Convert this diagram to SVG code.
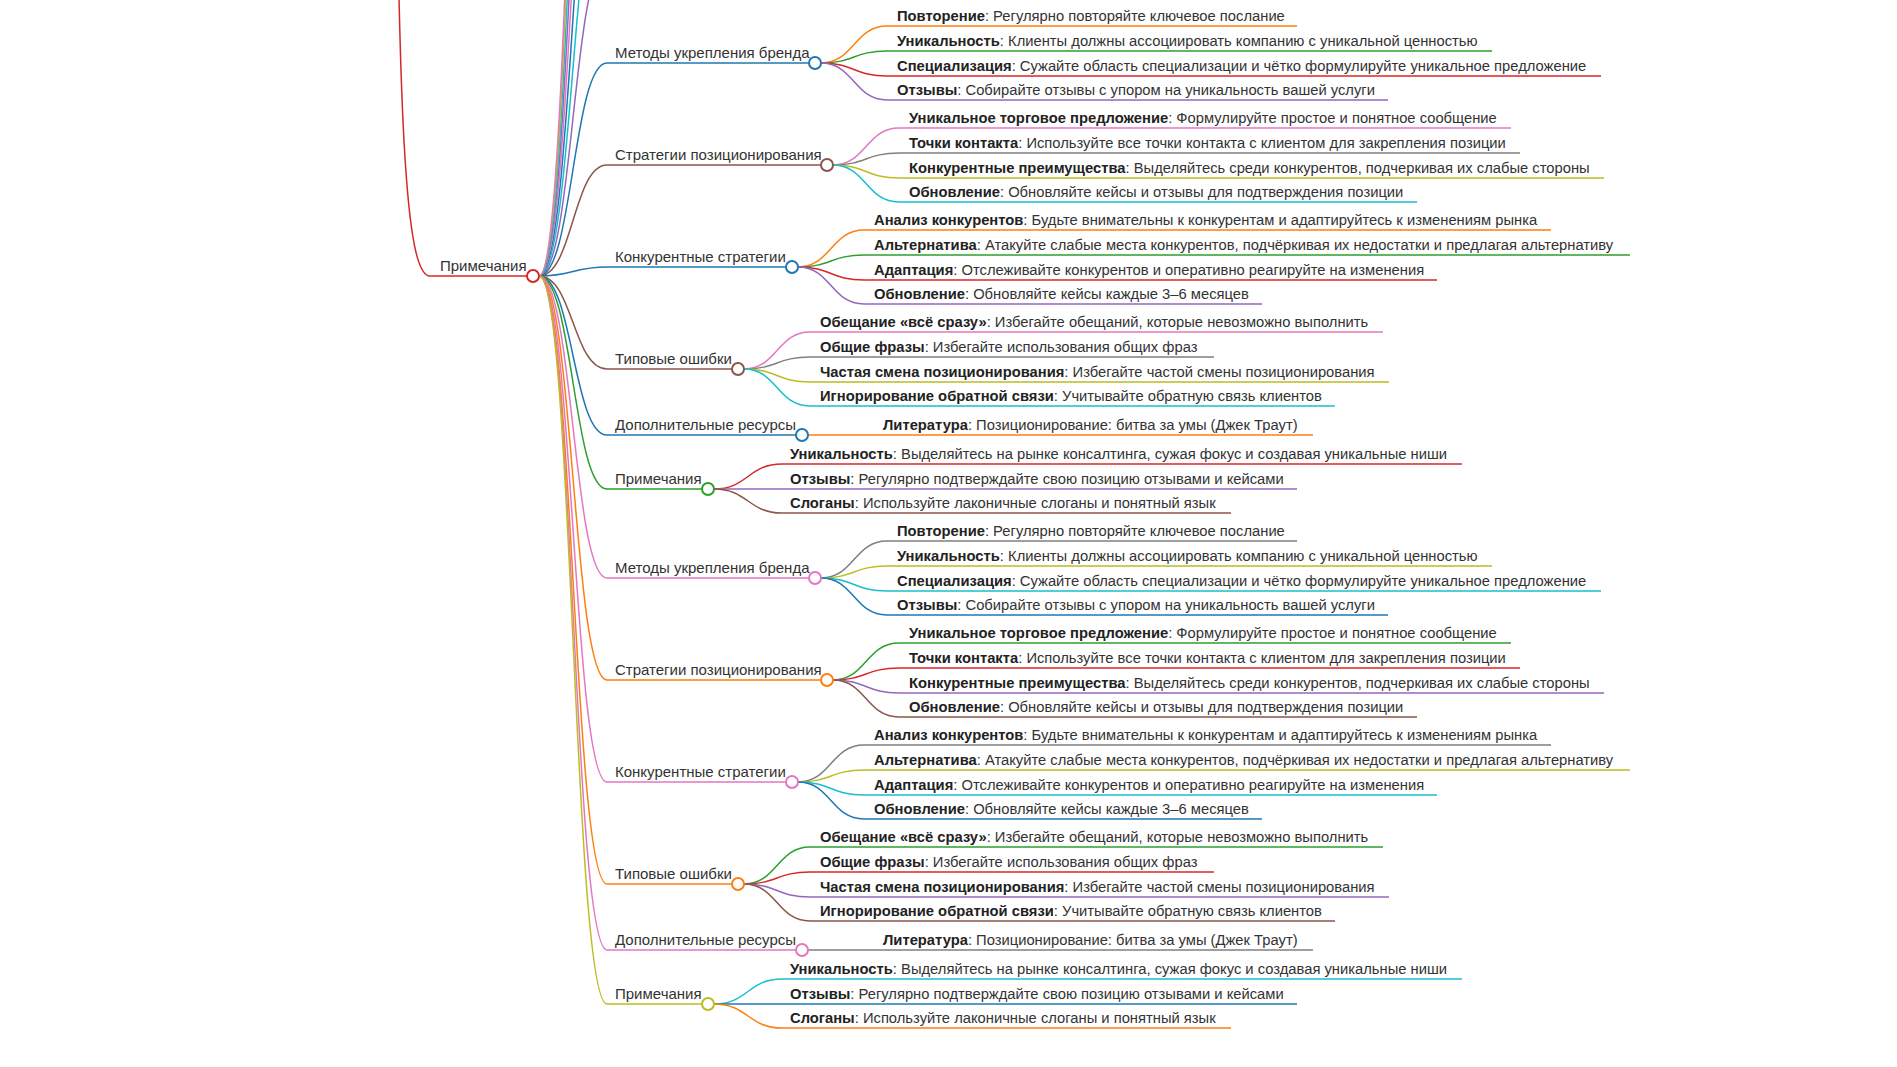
<svg xmlns="http://www.w3.org/2000/svg" width="1897" height="1067" viewBox="0 0 1897 1067">
<style>
text{font-family:"Liberation Sans",Arial,sans-serif;font-size:15px;fill:#333}
.lf text{font-size:14.75px}
.b{font-weight:bold;fill:#222}
path{fill:none;stroke-width:1.5}
circle{fill:#fff;stroke-width:2}
</style>
<rect width="1897" height="1067" fill="#fff"/>
<g id="connectors">
<path d="M527,276 H430 C405,276 398,120 395,-300" stroke="#d62728"/>
<path d="M539,276 C573,276 573,-40 607,-40" stroke="#9467bd"/>
<path d="M539,276 C573,276 573,-140 607,-140" stroke="#17becf"/>
<path d="M539,276 C573,276 573,-240 607,-240" stroke="#1f77b4"/>
<path d="M539,276 C573,276 573,-340 607,-340" stroke="#e377c2"/>
<path d="M539,276 C573,276 573,-440 607,-440" stroke="#9467bd"/>
<path d="M539,276 C573,276 573,-540 607,-540" stroke="#17becf"/>
<path d="M539,276 C573,276 573,-640 607,-640" stroke="#bcbd22"/>
<path d="M539,276 C573,276 573,-740 607,-740" stroke="#e377c2"/>
<path d="M539,276 C573,276 573,63 607,63 H809" stroke="#1f77b4"/>
<path d="M539,276 C573,276 573,165 607,165 H821" stroke="#8c564b"/>
<path d="M539,276 C573,276 573,267 607,267 H786" stroke="#1f77b4"/>
<path d="M539,276 C573,276 573,369 607,369 H732" stroke="#8c564b"/>
<path d="M539,276 C573,276 573,435 607,435 H796" stroke="#1f77b4"/>
<path d="M539,276 C573,276 573,489 607,489 H702" stroke="#2ca02c"/>
<path d="M539,276 C573,276 573,578 607,578 H809" stroke="#e377c2"/>
<path d="M539,276 C573,276 573,680 607,680 H821" stroke="#ff7f0e"/>
<path d="M539,276 C573,276 573,782 607,782 H786" stroke="#e377c2"/>
<path d="M539,276 C573,276 573,884 607,884 H732" stroke="#ff7f0e"/>
<path d="M539,276 C573,276 573,950 607,950 H796" stroke="#e377c2"/>
<path d="M539,276 C573,276 573,1004 607,1004 H702" stroke="#bcbd22"/>
<path d="M821,63 C854,63 854,26 887,26 H1297" stroke="#ff7f0e"/>
<path d="M821,63 C854,63 854,51 887,51 H1492" stroke="#2ca02c"/>
<path d="M821,63 C854,63 854,76 887,76 H1601" stroke="#d62728"/>
<path d="M821,63 C854,63 854,100 887,100 H1388" stroke="#9467bd"/>
<path d="M833,165 C866,165 866,128 899,128 H1511" stroke="#e377c2"/>
<path d="M833,165 C866,165 866,153 899,153 H1520" stroke="#7f7f7f"/>
<path d="M833,165 C866,165 866,178 899,178 H1604" stroke="#bcbd22"/>
<path d="M833,165 C866,165 866,202 899,202 H1417" stroke="#17becf"/>
<path d="M798,267 C831,267 831,230 864,230 H1551" stroke="#ff7f0e"/>
<path d="M798,267 C831,267 831,255 864,255 H1630" stroke="#2ca02c"/>
<path d="M798,267 C831,267 831,280 864,280 H1437" stroke="#d62728"/>
<path d="M798,267 C831,267 831,304 864,304 H1262" stroke="#9467bd"/>
<path d="M744,369 C777,369 777,332 810,332 H1383" stroke="#e377c2"/>
<path d="M744,369 C777,369 777,357 810,357 H1214" stroke="#7f7f7f"/>
<path d="M744,369 C777,369 777,382 810,382 H1389" stroke="#bcbd22"/>
<path d="M744,369 C777,369 777,406 810,406 H1335" stroke="#17becf"/>
<path d="M808,435 H1313" stroke="#ff7f0e"/>
<path d="M714,489 C748,489 748,464 782,464 H1462" stroke="#d62728"/>
<path d="M714,489 H1297" stroke="#9467bd"/>
<path d="M714,489 C748,489 748,513 782,513 H1231" stroke="#8c564b"/>
<path d="M821,578 C854,578 854,541 887,541 H1297" stroke="#7f7f7f"/>
<path d="M821,578 C854,578 854,566 887,566 H1492" stroke="#bcbd22"/>
<path d="M821,578 C854,578 854,591 887,591 H1601" stroke="#17becf"/>
<path d="M821,578 C854,578 854,615 887,615 H1388" stroke="#1f77b4"/>
<path d="M833,680 C866,680 866,643 899,643 H1511" stroke="#2ca02c"/>
<path d="M833,680 C866,680 866,668 899,668 H1520" stroke="#d62728"/>
<path d="M833,680 C866,680 866,693 899,693 H1604" stroke="#9467bd"/>
<path d="M833,680 C866,680 866,717 899,717 H1417" stroke="#8c564b"/>
<path d="M798,782 C831,782 831,745 864,745 H1551" stroke="#7f7f7f"/>
<path d="M798,782 C831,782 831,770 864,770 H1630" stroke="#bcbd22"/>
<path d="M798,782 C831,782 831,795 864,795 H1437" stroke="#17becf"/>
<path d="M798,782 C831,782 831,819 864,819 H1262" stroke="#1f77b4"/>
<path d="M744,884 C777,884 777,847 810,847 H1383" stroke="#2ca02c"/>
<path d="M744,884 C777,884 777,872 810,872 H1214" stroke="#d62728"/>
<path d="M744,884 C777,884 777,897 810,897 H1389" stroke="#9467bd"/>
<path d="M744,884 C777,884 777,921 810,921 H1335" stroke="#8c564b"/>
<path d="M808,950 H1313" stroke="#7f7f7f"/>
<path d="M714,1004 C748,1004 748,979 782,979 H1462" stroke="#17becf"/>
<path d="M714,1004 H1297" stroke="#1f77b4"/>
<path d="M714,1004 C748,1004 748,1028 782,1028 H1231" stroke="#ff7f0e"/>
</g>
<g id="root"><text x="440" y="271">Примечания</text><circle cx="533" cy="276" r="6" stroke="#d62728"/></g>
<g id="n1"><text x="615" y="58">Методы укрепления бренда</text><circle cx="815" cy="63" r="6" stroke="#1f77b4"/></g>
<g id="n2"><text x="615" y="160">Стратегии позиционирования</text><circle cx="827" cy="165" r="6" stroke="#8c564b"/></g>
<g id="n3"><text x="615" y="262">Конкурентные стратегии</text><circle cx="792" cy="267" r="6" stroke="#1f77b4"/></g>
<g id="n4"><text x="615" y="364">Типовые ошибки</text><circle cx="738" cy="369" r="6" stroke="#8c564b"/></g>
<g id="n5"><text x="615" y="430">Дополнительные ресурсы</text><circle cx="802" cy="435" r="6" stroke="#1f77b4"/></g>
<g id="n6"><text x="615" y="484">Примечания</text><circle cx="708" cy="489" r="6" stroke="#2ca02c"/></g>
<g id="n7"><text x="615" y="573">Методы укрепления бренда</text><circle cx="815" cy="578" r="6" stroke="#e377c2"/></g>
<g id="n8"><text x="615" y="675">Стратегии позиционирования</text><circle cx="827" cy="680" r="6" stroke="#ff7f0e"/></g>
<g id="n9"><text x="615" y="777">Конкурентные стратегии</text><circle cx="792" cy="782" r="6" stroke="#e377c2"/></g>
<g id="n10"><text x="615" y="879">Типовые ошибки</text><circle cx="738" cy="884" r="6" stroke="#ff7f0e"/></g>
<g id="n11"><text x="615" y="945">Дополнительные ресурсы</text><circle cx="802" cy="950" r="6" stroke="#e377c2"/></g>
<g id="n12"><text x="615" y="999">Примечания</text><circle cx="708" cy="1004" r="6" stroke="#bcbd22"/></g>
<g id="leaves1" class="lf">
<text x="897" y="21"><tspan class="b">Повторение</tspan>: Регулярно повторяйте ключевое послание</text>
<text x="897" y="46"><tspan class="b">Уникальность</tspan>: Клиенты должны ассоциировать компанию с уникальной ценностью</text>
<text x="897" y="71"><tspan class="b">Специализация</tspan>: Сужайте область специализации и чётко формулируйте уникальное предложение</text>
<text x="897" y="95"><tspan class="b">Отзывы</tspan>: Собирайте отзывы с упором на уникальность вашей услуги</text>
<text x="909" y="123"><tspan class="b">Уникальное торговое предложение</tspan>: Формулируйте простое и понятное сообщение</text>
<text x="909" y="148"><tspan class="b">Точки контакта</tspan>: Используйте все точки контакта с клиентом для закрепления позиции</text>
<text x="909" y="173"><tspan class="b">Конкурентные преимущества</tspan>: Выделяйтесь среди конкурентов, подчеркивая их слабые стороны</text>
<text x="909" y="197"><tspan class="b">Обновление</tspan>: Обновляйте кейсы и отзывы для подтверждения позиции</text>
<text x="874" y="225"><tspan class="b">Анализ конкурентов</tspan>: Будьте внимательны к конкурентам и адаптируйтесь к изменениям рынка</text>
<text x="874" y="250"><tspan class="b">Альтернатива</tspan>: Атакуйте слабые места конкурентов, подчёркивая их недостатки и предлагая альтернативу</text>
<text x="874" y="275"><tspan class="b">Адаптация</tspan>: Отслеживайте конкурентов и оперативно реагируйте на изменения</text>
<text x="874" y="299"><tspan class="b">Обновление</tspan>: Обновляйте кейсы каждые 3–6 месяцев</text>
<text x="820" y="327"><tspan class="b">Обещание «всё сразу»</tspan>: Избегайте обещаний, которые невозможно выполнить</text>
<text x="820" y="352"><tspan class="b">Общие фразы</tspan>: Избегайте использования общих фраз</text>
<text x="820" y="377"><tspan class="b">Частая смена позиционирования</tspan>: Избегайте частой смены позиционирования</text>
<text x="820" y="401"><tspan class="b">Игнорирование обратной связи</tspan>: Учитывайте обратную связь клиентов</text>
<text x="883" y="430"><tspan class="b">Литература</tspan>: Позиционирование: битва за умы (Джек Траут)</text>
<text x="790" y="459"><tspan class="b">Уникальность</tspan>: Выделяйтесь на рынке консалтинга, сужая фокус и создавая уникальные ниши</text>
<text x="790" y="484"><tspan class="b">Отзывы</tspan>: Регулярно подтверждайте свою позицию отзывами и кейсами</text>
<text x="790" y="508"><tspan class="b">Слоганы</tspan>: Используйте лаконичные слоганы и понятный язык</text>
</g>
<g id="leaves2" class="lf">
<text x="897" y="536"><tspan class="b">Повторение</tspan>: Регулярно повторяйте ключевое послание</text>
<text x="897" y="561"><tspan class="b">Уникальность</tspan>: Клиенты должны ассоциировать компанию с уникальной ценностью</text>
<text x="897" y="586"><tspan class="b">Специализация</tspan>: Сужайте область специализации и чётко формулируйте уникальное предложение</text>
<text x="897" y="610"><tspan class="b">Отзывы</tspan>: Собирайте отзывы с упором на уникальность вашей услуги</text>
<text x="909" y="638"><tspan class="b">Уникальное торговое предложение</tspan>: Формулируйте простое и понятное сообщение</text>
<text x="909" y="663"><tspan class="b">Точки контакта</tspan>: Используйте все точки контакта с клиентом для закрепления позиции</text>
<text x="909" y="688"><tspan class="b">Конкурентные преимущества</tspan>: Выделяйтесь среди конкурентов, подчеркивая их слабые стороны</text>
<text x="909" y="712"><tspan class="b">Обновление</tspan>: Обновляйте кейсы и отзывы для подтверждения позиции</text>
<text x="874" y="740"><tspan class="b">Анализ конкурентов</tspan>: Будьте внимательны к конкурентам и адаптируйтесь к изменениям рынка</text>
<text x="874" y="765"><tspan class="b">Альтернатива</tspan>: Атакуйте слабые места конкурентов, подчёркивая их недостатки и предлагая альтернативу</text>
<text x="874" y="790"><tspan class="b">Адаптация</tspan>: Отслеживайте конкурентов и оперативно реагируйте на изменения</text>
<text x="874" y="814"><tspan class="b">Обновление</tspan>: Обновляйте кейсы каждые 3–6 месяцев</text>
<text x="820" y="842"><tspan class="b">Обещание «всё сразу»</tspan>: Избегайте обещаний, которые невозможно выполнить</text>
<text x="820" y="867"><tspan class="b">Общие фразы</tspan>: Избегайте использования общих фраз</text>
<text x="820" y="892"><tspan class="b">Частая смена позиционирования</tspan>: Избегайте частой смены позиционирования</text>
<text x="820" y="916"><tspan class="b">Игнорирование обратной связи</tspan>: Учитывайте обратную связь клиентов</text>
<text x="883" y="945"><tspan class="b">Литература</tspan>: Позиционирование: битва за умы (Джек Траут)</text>
<text x="790" y="974"><tspan class="b">Уникальность</tspan>: Выделяйтесь на рынке консалтинга, сужая фокус и создавая уникальные ниши</text>
<text x="790" y="999"><tspan class="b">Отзывы</tspan>: Регулярно подтверждайте свою позицию отзывами и кейсами</text>
<text x="790" y="1023"><tspan class="b">Слоганы</tspan>: Используйте лаконичные слоганы и понятный язык</text>
</g>
</svg>
